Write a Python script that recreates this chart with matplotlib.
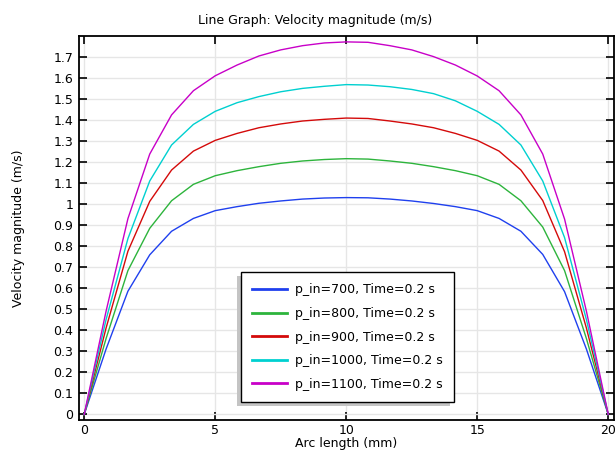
import numpy as np
import matplotlib.pyplot as plt
from matplotlib.patches import Rectangle

# arc length sample points (mm)
arc = [0, 0.833, 1.667, 2.5, 3.333, 4.167, 5, 5.833, 6.667, 7.5, 8.333, 9.167, 10,
       10.833, 11.667, 12.5, 13.333, 14.167, 15, 15.833, 16.667, 17.5, 18.333, 19.167, 20]

v700 = [0, 0.31, 0.585, 0.758, 0.870, 0.931, 0.968, 0.987, 1.003, 1.014, 1.023, 1.028, 1.030,
        1.029, 1.023, 1.014, 1.002, 0.987, 0.968, 0.931, 0.870, 0.760, 0.583, 0.31, 0]
v800 = [0, 0.36, 0.683, 0.884, 1.015, 1.093, 1.134, 1.158, 1.177, 1.193, 1.204, 1.211, 1.215,
        1.213, 1.204, 1.193, 1.177, 1.158, 1.134, 1.093, 1.015, 0.890, 0.683, 0.36, 0]
v900 = [0, 0.41, 0.775, 1.012, 1.161, 1.251, 1.302, 1.335, 1.362, 1.380, 1.394, 1.402, 1.408,
        1.406, 1.394, 1.380, 1.362, 1.335, 1.302, 1.251, 1.161, 1.016, 0.773, 0.41, 0]
v1000 = [0, 0.45, 0.835, 1.109, 1.280, 1.378, 1.440, 1.481, 1.510, 1.533, 1.549, 1.559, 1.567,
         1.565, 1.557, 1.544, 1.524, 1.490, 1.440, 1.378, 1.280, 1.109, 0.84, 0.45, 0]
v1100 = [0, 0.49, 0.930, 1.237, 1.423, 1.538, 1.609, 1.660, 1.703, 1.732, 1.752, 1.765, 1.770,
         1.768, 1.752, 1.732, 1.700, 1.660, 1.608, 1.538, 1.423, 1.237, 0.928, 0.49, 0]

series = [v700, v800, v900, v1000, v1100]
labels = ["p_in=700, Time=0.2 s", "p_in=800, Time=0.2 s", "p_in=900, Time=0.2 s",
          "p_in=1000, Time=0.2 s", "p_in=1100, Time=0.2 s"]
colors = ["#1f40ee", "#2db43c", "#d40a0a", "#00d0d0", "#c800c8"]

W, H = 616, 451
fig = plt.figure(figsize=(W / 100, H / 100), dpi=100)
ax = fig.add_axes([79 / W, 31 / H, 535 / W, 384 / H])

for vals, lab, col in zip(series, labels, colors):
    ax.plot(arc, vals, color=col, lw=1.0, label=lab)

ax.set_xlim(-0.2, 20.22)
ax.set_ylim(-0.027, 1.798)
ax.set_xticks([0, 5, 10, 15, 20])
yt = np.round(np.arange(0, 1.71, 0.1), 1)
ax.set_yticks(yt)
ax.set_yticklabels([("%g" % v) for v in yt])
ax.grid(True, color="#e6e6e6", lw=1.0)
ax.set_axisbelow(True)
ax.tick_params(direction="in", length=6, width=1.2, top=True, right=True,
               labelsize=9, pad=4, color="black")
ax.tick_params(axis="x", pad=3)
for sp in ax.spines.values():
    sp.set_linewidth(1.3)

fig.text(315.5 / W, 1 - 20.5 / H, "Line Graph: Velocity magnitude (m/s)",
         fontsize=9, ha="center", va="center")
ax.set_xlabel("Arc length (mm)", fontsize=9, va="center")
ax.xaxis.set_label_coords(0.5, (420 - 443) / 384)
ax.set_ylabel("Velocity magnitude (m/s)", fontsize=9, va="center")
ax.yaxis.set_label_coords((18 - 79) / 535, 0.5)

leg = ax.legend(loc="upper left", bbox_to_anchor=(162 / 535, (420 - 272) / 384),
                fontsize=9, frameon=True, fancybox=False, shadow=False,
                edgecolor="black", framealpha=1, handlelength=2.8, handletextpad=0.65,
                labelspacing=0.85, borderpad=0.9, borderaxespad=0)
leg.get_frame().set_linewidth(1.0)
for ln in leg.get_lines():
    ln.set_linewidth(2.0)

# shadow offset to the lower left, like the original
fig.canvas.draw()
bb = leg.get_window_extent()
shadow = Rectangle((bb.x0 - 4, bb.y0 - 4), bb.width, bb.height, transform=None,
                   facecolor="#c4c4c4", edgecolor="none", zorder=4.9, clip_on=False)
ax.add_artist(shadow)

fig.savefig("out.png", dpi=100)
